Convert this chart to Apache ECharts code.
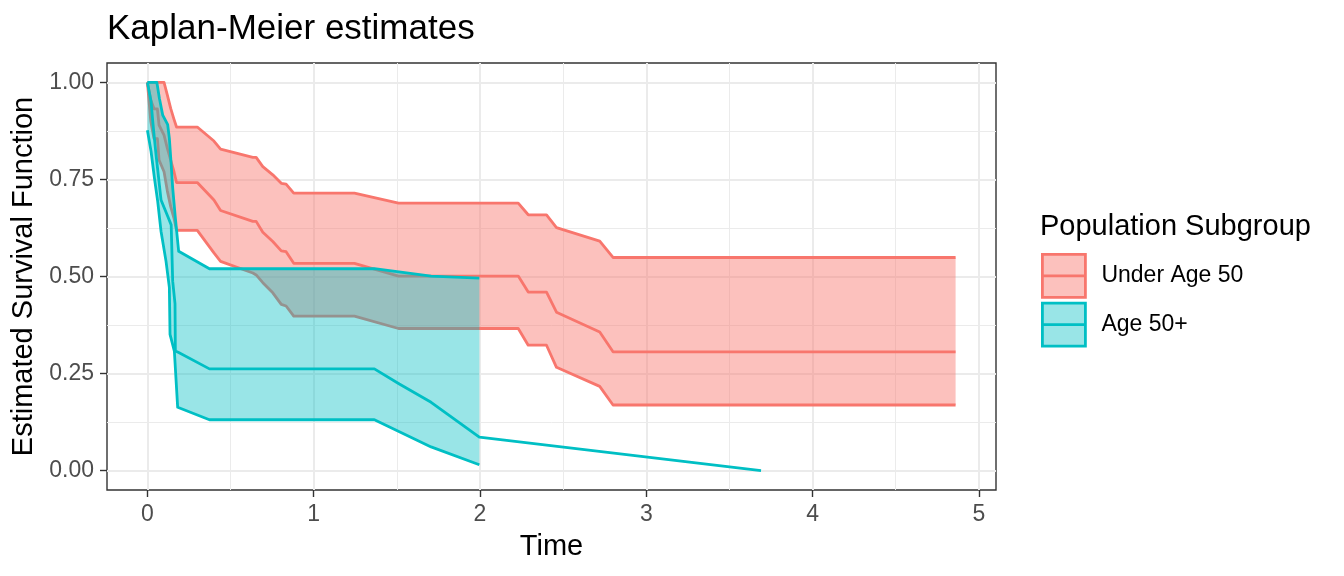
<!DOCTYPE html>
<html>
<head>
<meta charset="utf-8">
<script src="https://cdn.jsdelivr.net/npm/echarts@6/dist/echarts.min.js"></script>
<style>
html,body{margin:0;padding:0;background:#fff;}
#chart{width:1344px;height:576px;}
</style>
</head>
<body>
<div id="chart"></div>
<script>
// ---- tick values ----
const xTicks = [0, 1, 2, 3, 4, 5];
const xMinorTicks = [0.5, 1.5, 2.5, 3.5, 4.5];
const yTicks = [0, 0.25, 0.5, 0.75, 1];
const yMinorTicks = [0.125, 0.375, 0.625, 0.875];

const groupNames = ['Under Age 50', 'Age 50+'];

// ---- Under Age 50 ----
const under50Time  = [0, 0.02, 0.04, 0.06, 0.07, 0.10, 0.12, 0.14, 0.16, 0.175, 0.30, 0.40, 0.44, 0.634, 0.654, 0.694, 0.754, 0.805, 0.834, 0.880, 1.245, 1.51, 2.23, 2.29, 2.40, 2.46, 2.72, 2.80, 4.86];
const under50Upper = [1, 1, 1, 1, 1, 1, 0.967, 0.933, 0.905, 0.885, 0.885, 0.849, 0.828, 0.807, 0.807, 0.783, 0.762, 0.740, 0.738, 0.715, 0.715, 0.689, 0.689, 0.659, 0.659, 0.626, 0.591, 0.549, 0.549];
const under50Est   = [1, 0.955, 0.932, 0.932, 0.89, 0.864, 0.83, 0.80, 0.77, 0.742, 0.742, 0.697, 0.670, 0.642, 0.642, 0.614, 0.590, 0.566, 0.564, 0.534, 0.534, 0.501, 0.501, 0.460, 0.460, 0.408, 0.357, 0.306, 0.306];
const under50Lower = [1, 0.90, 0.855, 0.855, 0.80, 0.77, 0.72, 0.68, 0.65, 0.619, 0.619, 0.561, 0.539, 0.509, 0.504, 0.484, 0.458, 0.428, 0.424, 0.398, 0.398, 0.366, 0.366, 0.323, 0.323, 0.266, 0.217, 0.169, 0.169];

// ---- Age 50+ ----
const age50UpperTime = [0, 0.057, 0.072, 0.092, 0.122, 0.132, 0.143, 0.152, 0.168, 0.188, 0.373, 1.365, 1.706, 1.996];
const age50Upper     = [1, 1, 0.959, 0.916, 0.891, 0.856, 0.788, 0.728, 0.651, 0.565, 0.52, 0.52, 0.501, 0.496];
const age50EstTime   = [0, 0.022, 0.032, 0.042, 0.052, 0.072, 0.082, 0.122, 0.143, 0.152, 0.166, 0.168, 0.188, 0.373, 1.365, 1.515, 1.706, 1.996, 3.69];
const age50Est       = [1, 0.951, 0.90, 0.856, 0.813, 0.736, 0.697, 0.655, 0.633, 0.488, 0.43, 0.308, 0.304, 0.262, 0.262, 0.223, 0.176, 0.086, 0];
const age50LowerTime = [0, 0.022, 0.042, 0.062, 0.082, 0.112, 0.132, 0.136, 0.162, 0.182, 0.373, 1.365, 1.706, 1.996];
const age50Lower     = [0.877, 0.822, 0.754, 0.693, 0.616, 0.539, 0.472, 0.351, 0.308, 0.163, 0.131, 0.131, 0.061, 0.015];

const RED = '#F8766D', CYAN = '#00BFC4';
const RED_FILL = 'rgba(248,118,109,0.45)', CYAN_FILL = 'rgba(0,191,196,0.4)';
const FONT = "'Liberation Sans', Arial, Helvetica, sans-serif";
const LW = 2.8;

function pairs(t, v) { return t.map((x, i) => [x, v[i]]); }

function ribbon(name, upT, upV, loT, loV, fill, z) {
  return {
    type: 'custom', name: name, z: z, silent: true, clip: true,
    xAxisIndex: 0, yAxisIndex: 0,
    data: pairs(upT, upV),
    encode: { x: 0, y: 1 },
    renderItem: function (params, api) {
      if (params.dataIndex !== 0) return null;
      const pts = [];
      for (let i = 0; i < upT.length; i++) pts.push(api.coord([upT[i], upV[i]]));
      for (let i = loT.length - 1; i >= 0; i--) pts.push(api.coord([loT[i], loV[i]]));
      return { type: 'polygon', shape: { points: pts }, style: { fill: fill, stroke: null } };
    }
  };
}

function line(name, t, v, color, z) {
  return {
    type: 'line', name: name, z: z, silent: true,
    xAxisIndex: 0, yAxisIndex: 0,
    data: pairs(t, v),
    showSymbol: false, symbol: 'none',
    lineStyle: { color: color, width: LW, join: 'round', cap: 'butt' },
    itemStyle: { color: color }
  };
}

const chart = echarts.init(document.getElementById('chart'), null, { renderer: 'canvas' });

const axisLabelStyle = { fontSize: 23, color: '#4D4D4D', fontFamily: FONT };
const tickStyle = { color: '#333333', width: 1.4 };

chart.setOption({
  animation: false,
  backgroundColor: '#ffffff',
  textStyle: { fontFamily: FONT },
  title: [
    { text: 'Kaplan-Meier estimates', left: 107, top: 12, padding: 0,
      textStyle: { fontSize: 35, fontWeight: 'normal', color: '#000', fontFamily: FONT } },
    { text: 'Population Subgroup', left: 1040, top: 212, padding: 0,
      textStyle: { fontSize: 29, fontWeight: 'normal', color: '#000', fontFamily: FONT } }
  ],
  grid: { left: 107, right: 348, top: 63, bottom: 86, show: true,
          borderColor: '#333333', borderWidth: 1.4, backgroundColor: 'transparent' },
  legend: {
    orient: 'vertical', left: 1041, top: 253, padding: 0, itemGap: 3,
    itemWidth: 43, itemHeight: 43, selectedMode: false,
    icon: 'path://M0,0H43V43H0Z M0,21.5H43',
    data: [
      { name: groupNames[0], itemStyle: { color: RED_FILL, borderColor: RED, borderWidth: LW } },
      { name: groupNames[1], itemStyle: { color: CYAN_FILL, borderColor: CYAN, borderWidth: LW } }
    ],
    textStyle: { fontSize: 23, color: '#000', fontFamily: FONT, padding: [0, 0, 0, 11] }
  },
  xAxis: [
    { type: 'value', min: -0.243, max: 5.103, gridIndex: 0, position: 'bottom',
      name: 'Time', nameLocation: 'middle', nameGap: 42,
      nameTextStyle: { fontSize: 29, color: '#000', fontFamily: FONT },
      axisLine: { show: false, onZero: false },
      axisTick: { show: true, length: 7, lineStyle: tickStyle, customValues: xTicks },
      axisLabel: Object.assign({ customValues: xTicks, margin: 13 }, axisLabelStyle),
      splitLine: { show: true, lineStyle: { color: '#EBEBEB', width: 2 } } },
    { type: 'value', min: -0.243, max: 5.103, gridIndex: 0, position: 'bottom',
      axisLine: { show: false, onZero: false },
      axisTick: { show: false, customValues: xMinorTicks },
      axisLabel: { show: false, customValues: xMinorTicks },
      splitLine: { show: true, lineStyle: { color: '#EBEBEB', width: 1 } } }
  ],
  yAxis: [
    { type: 'value', min: -0.05, max: 1.05, gridIndex: 0, position: 'left',
      name: 'Estimated Survival Function', nameLocation: 'middle', nameGap: 62,
      nameTextStyle: { fontSize: 29, color: '#000', fontFamily: FONT },
      axisLine: { show: false, onZero: false },
      axisTick: { show: true, length: 7, lineStyle: tickStyle, customValues: yTicks },
      axisLabel: Object.assign({ customValues: yTicks, margin: 13, formatter: v => v.toFixed(2) }, axisLabelStyle),
      splitLine: { show: true, lineStyle: { color: '#EBEBEB', width: 2 } } },
    { type: 'value', min: -0.05, max: 1.05, gridIndex: 0, position: 'left',
      axisLine: { show: false, onZero: false },
      axisTick: { show: false, customValues: yMinorTicks },
      axisLabel: { show: false, customValues: yMinorTicks },
      splitLine: { show: true, lineStyle: { color: '#EBEBEB', width: 1 } } }
  ],
  series: [
    ribbon(groupNames[0], under50Time, under50Upper, under50Time, under50Lower, RED_FILL, 10),
    line(groupNames[0], under50Time, under50Upper, RED, 11),
    line(groupNames[0], under50Time, under50Lower, RED, 11),
    line(groupNames[0], under50Time, under50Est, RED, 11),
    ribbon(groupNames[1], age50UpperTime, age50Upper, age50LowerTime, age50Lower, CYAN_FILL, 12),
    line(groupNames[1], age50UpperTime, age50Upper, CYAN, 13),
    line(groupNames[1], age50LowerTime, age50Lower, CYAN, 13),
    line(groupNames[1], age50EstTime, age50Est, CYAN, 13)
  ]
});
</script>
</body>
</html>
